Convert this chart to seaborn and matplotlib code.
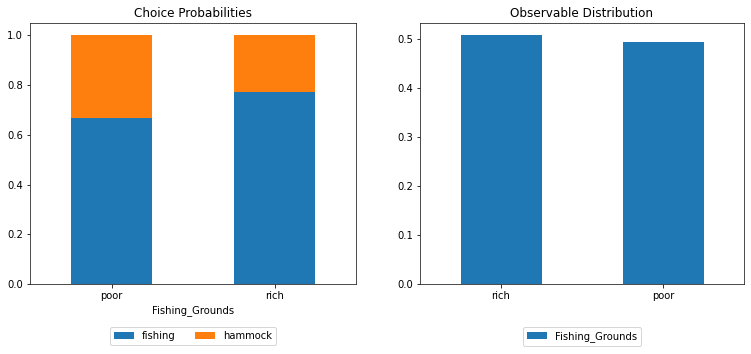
import matplotlib
matplotlib.use("Agg")
import matplotlib.pyplot as plt
import seaborn as sns
import pandas as pd

grounds_left = ["poor", "rich"]
fishing = [0.667, 0.774]
hammock = [0.333, 0.226]

grounds_right = ["rich", "poor"]
observable = [0.507, 0.493]

blue = "#1f77b4"
orange = "#ff7f0e"

plt.rcParams["font.family"] = ["DejaVu Sans"]
plt.rcParams["font.size"] = 10

fig = plt.figure(figsize=(751 / 72, 354 / 72), dpi=72)
ax1 = fig.add_axes([30 / 751, 1 - 284 / 354, 326 / 751, 261 / 354])
ax2 = fig.add_axes([420 / 751, 1 - 284 / 354, 324 / 751, 261 / 354])

df_left = pd.DataFrame({
    "Fishing_Grounds": grounds_left,
    "fishing": fishing,
    "total": [f + h for f, h in zip(fishing, hammock)],
})
sns.barplot(data=df_left, x="Fishing_Grounds", y="total", color=orange,
            saturation=1, width=0.5, ax=ax1, label="hammock")
sns.barplot(data=df_left, x="Fishing_Grounds", y="fishing", color=blue,
            saturation=1, width=0.5, ax=ax1, label="fishing")
ax1.set_title("Choice Probabilities")
ax1.set_ylabel("")
ax1.set_xlabel("Fishing_Grounds")
ax1.set_xlim(-0.5, 1.5)
ax1.set_ylim(0, 1.05)
h, l = ax1.get_legend_handles_labels()
order = [l.index("fishing"), l.index("hammock")]
ax1.legend([h[i] for i in order], [l[i] for i in order], loc="center",
           bbox_to_anchor=(0.5, -0.2), ncol=2, frameon=True)

df_right = pd.DataFrame({"grounds": grounds_right, "Fishing_Grounds": observable})
sns.barplot(data=df_right, x="grounds", y="Fishing_Grounds", color=blue,
            saturation=1, width=0.5, ax=ax2, label="Fishing_Grounds")
ax2.set_title("Observable Distribution")
ax2.set_ylabel("")
ax2.set_xlabel("")
ax2.set_xlim(-0.5, 1.5)
ax2.set_ylim(0, max(observable) * 1.05)
ax2.legend(loc="center", bbox_to_anchor=(0.5, -0.2), frameon=True)

for ax in (ax1, ax2):
    for s in ax.spines.values():
        s.set_color("#222222")

fig.savefig("out.png", dpi=72)
